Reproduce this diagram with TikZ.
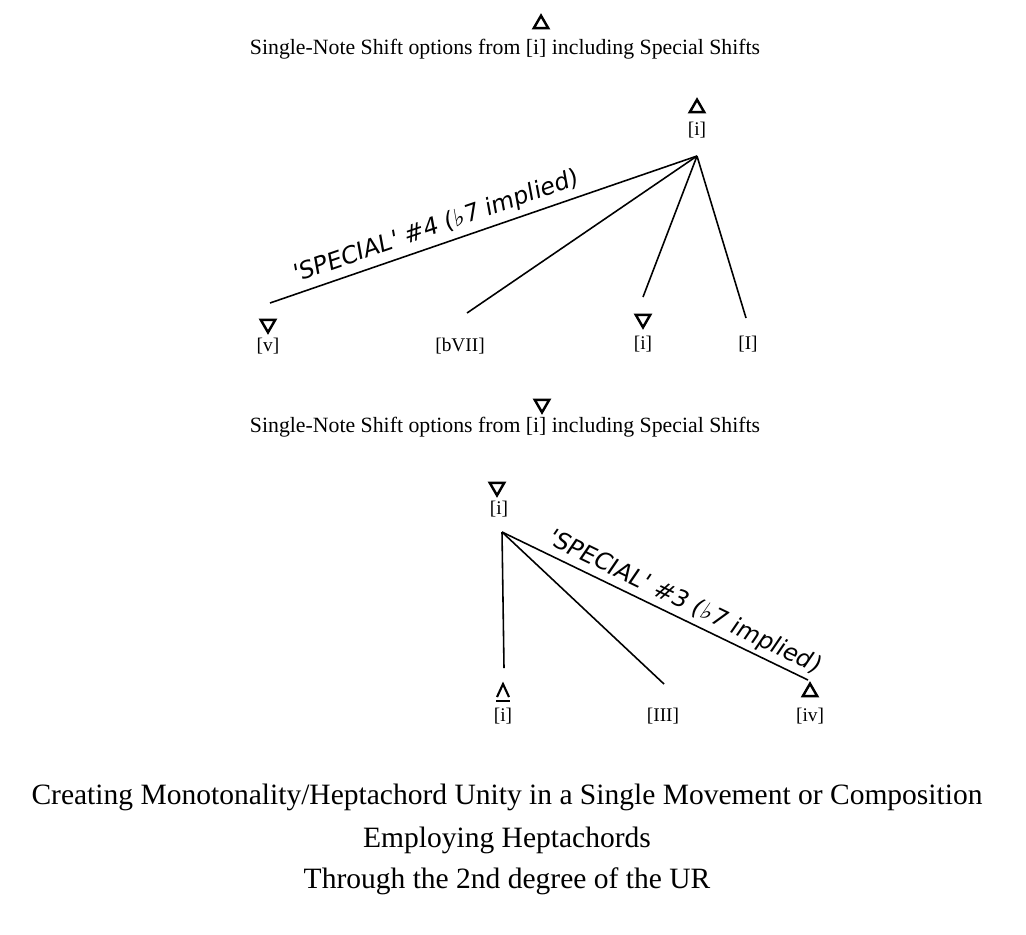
\documentclass[tikz,border=0pt]{standalone}
\usepackage{fontspec}
\setmainfont{Liberation Serif}
\newfontfamily\handfont[FakeSlant=0.15]{DejaVu Sans}
\usetikzlibrary{shapes.geometric}

\tikzset{
  uptri/.style={regular polygon, regular polygon sides=3, draw, line width=1.4pt, inner sep=0pt, minimum size=9.5pt},
  downtri/.style={uptri, shape border rotate=180},
  chord/.style={font=\fontsize{11}{12}\selectfont, inner sep=0pt},
  hand/.style={font=\handfont\fontsize{13.5}{14}\selectfont, inner sep=3pt},
  branch/.style={line width=0.9pt},
}

\begin{document}
\begin{tikzpicture}[x=0.02cm, y=-0.02cm]
  \useasboundingbox[fill=white] (0,0) rectangle (1026,934);

  % first heading
  \node[uptri] (t0) at (541,24) {};
  \node[font=\fontsize{12.4}{14}\selectfont] (head1) at (505,49) {Single-Note Shift options from [i] including Special Shifts};

  % first tree
  \node[uptri] (ta) at (697,108) {};
  \node[chord] (la) at (697,130) {[i]};
  \coordinate (a) at (697,156);
  \coordinate (a1) at (270,303);
  \coordinate (a2) at (467,313);
  \coordinate (a3) at (643,297);
  \coordinate (a4) at (746,318);
  \node[downtri] (t1) at (268,324) {};
  \node[chord] (l1) at (268,346) {[v]};
  \node[chord] (l2) at (460,346) {[bVII]};
  \node[downtri] (t3) at (643,319) {};
  \node[chord] (l3) at (643,344) {[i]};
  \node[chord] (l4) at (748,344) {[I]};
  \draw[branch] (a1) -- node[hand, sloped, above, pos=0.4] {'SPECIAL' \#4 (♭7 implied)} (a);
  \draw[branch] (a) -- (a2);
  \draw[branch] (a) -- (a3);
  \draw[branch] (a) -- (a4);

  % second heading
  \node[downtri] (t5) at (542,404) {};
  \node[font=\fontsize{12.4}{14}\selectfont] (head2) at (505,427) {Single-Note Shift options from [i] including Special Shifts};

  % second tree
  \node[downtri] (tb) at (497,487) {};
  \node[chord] (lb) at (499,509) {[i]};
  \coordinate (b) at (502,532);
  \coordinate (b1) at (504,668);
  \coordinate (b2) at (664,684);
  \coordinate (b3) at (808,680);
  \draw[line width=1.2pt] (497,697) -- (503,684) -- (509,697);
  \draw[line width=1.2pt] (496,701) -- (510,701);
  \node[chord] (l5) at (503,716) {[i]};
  \node[chord] (l6) at (663,716) {[III]};
  \node[uptri] (t7) at (810,692) {};
  \node[chord] (l7) at (810,716) {[iv]};
  \draw[branch] (b) -- (b1);
  \draw[branch] (b) -- (b2);
  \draw[branch] (b) -- node[hand, sloped, above, pos=0.57, inner sep=2pt] {'SPECIAL' \#3 (♭7 implied)} (b3);

  % captions
  \node[font=\fontsize{16.8}{19}\selectfont] (cap1) at (507,797) {Creating Monotonality/Heptachord Unity in a Single Movement or Composition};
  \node[font=\fontsize{16.8}{19}\selectfont] (cap2) at (507,840) {Employing Heptachords};
  \node[font=\fontsize{16.8}{19}\selectfont] (cap3) at (507,881) {Through the 2nd degree of the UR};
\end{tikzpicture}
\end{document}
